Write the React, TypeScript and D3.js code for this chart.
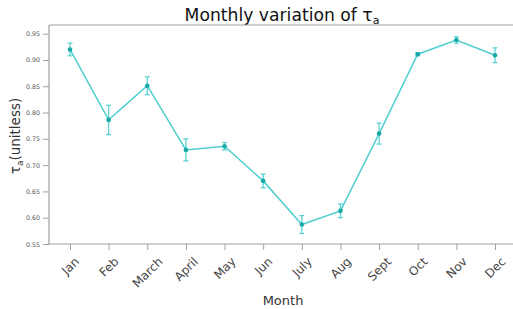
import React from 'react';
import * as d3 from 'd3';

const months = ['Jan', 'Feb', 'March', 'April', 'May', 'Jun', 'July', 'Aug', 'Sept', 'Oct', 'Nov', 'Dec'];
const tauValues = [0.920, 0.786, 0.851, 0.729, 0.736, 0.670, 0.587, 0.613, 0.760, 0.911, 0.938, 0.909];
const tauErrors = [0.012, 0.028, 0.017, 0.021, 0.007, 0.013, 0.017, 0.013, 0.020, 0.003, 0.006, 0.014];
const yTicks = [0.55, 0.60, 0.65, 0.70, 0.75, 0.80, 0.85, 0.90, 0.95];

const width = 513;
const height = 309;
const left = 49;
const right = 513;
const top = 25;
const bottom = 244;

const lineColor = '#4fd0cf';
const markColor = '#16a9a6';
const axisColor = '#a0a0a0';
const font = 'DejaVu Sans, sans-serif';
const xFont = 12;

const xScale = d3.scalePoint<string>().domain(months).range([70, 495]);
const yScale = d3.scaleLinear().domain([0.55, 0.9665]).range([bottom, top]);

function App() {
  const xAxisRef = React.useRef<SVGGElement>(null);
  const yAxisRef = React.useRef<SVGGElement>(null);

  React.useEffect(() => {
    const xa = d3.select(xAxisRef.current!);
    xa.call(d3.axisBottom(xScale).tickSize(6).tickSizeOuter(0));
    xa.select('.domain').remove();
    xa.selectAll('line').attr('stroke', axisColor);
    // matplotlib style: rotated 45, bbox centred on the tick
    xa.selectAll<SVGTextElement, string>('text')
      .attr('font-family', font)
      .attr('font-size', xFont)
      .attr('fill', '#444')
      .attr('text-anchor', 'middle')
      .attr('y', 0)
      .attr('dy', '0.32em')
      .attr('transform', function () {
        const len = this.getComputedTextLength();
        const half = (len + xFont * 0.85) * 0.7071 / 2;
        return `translate(0,${12 + half}) rotate(-45)`;
      });

    const ya = d3.select(yAxisRef.current!);
    ya.call(d3.axisLeft(yScale).tickValues(yTicks).tickFormat(d3.format('.2f')).tickSize(6).tickPadding(3));
    ya.select('.domain').remove();
    ya.selectAll('line').attr('stroke', axisColor);
    ya.selectAll('text')
      .attr('font-family', font)
      .attr('font-size', 6.3)
      .attr('fill', '#555');
  }, []);

  const line = d3.line<number>()
    .x((_, i) => xScale(months[i])!)
    .y(d => yScale(d));

  return (
    <svg width={width} height={height} viewBox={`0 0 ${width} ${height}`}
      style={{ position: 'absolute', left: 0, top: 0, background: '#fff' }}>
      <text x={282} y={21} textAnchor="middle" fontFamily={font} fontSize={17.2} fill="#111">
        Monthly variation of τ<tspan fontSize={11} dy={3}>a</tspan>
      </text>
      <line x1={left} x2={right} y1={top} y2={top} stroke={axisColor} strokeWidth={1.2} />
      <line x1={left} x2={left} y1={top} y2={bottom} stroke={axisColor} strokeWidth={1.2} />
      <line x1={left} x2={right} y1={bottom} y2={bottom} stroke={axisColor} strokeWidth={1.2} />
      <g ref={xAxisRef} transform={`translate(0,${bottom})`} />
      <g ref={yAxisRef} transform={`translate(${left},0)`} />
      <path d={line(tauValues) || ''} fill="none" stroke={lineColor} strokeWidth={1.5} />
      {tauValues.map((v, i) => {
        const x = xScale(months[i])!;
        const y0 = yScale(v - tauErrors[i]);
        const y1 = yScale(v + tauErrors[i]);
        return (
          <g key={months[i]}>
            <line x1={x} x2={x} y1={y0} y2={y1} stroke={lineColor} strokeWidth={1.2} />
            <line x1={x - 2.5} x2={x + 2.5} y1={y0} y2={y0} stroke={lineColor} strokeWidth={1.2} />
            <line x1={x - 2.5} x2={x + 2.5} y1={y1} y2={y1} stroke={lineColor} strokeWidth={1.2} />
            <circle cx={x} cy={yScale(v)} r={2.3} fill={markColor} />
          </g>
        );
      })}
      <text transform={`translate(20,${136}) rotate(-90)`} textAnchor="middle"
        fontFamily={font} fontSize={13.5} fill="#333">
        τ<tspan fontSize={9} dy={2.5}>a</tspan><tspan dy={-2.5}>(unitless)</tspan>
      </text>
      <text x={283} y={305} textAnchor="middle" fontFamily={font} fontSize={13} fill="#333">Month</text>
    </svg>
  );
}

export default App;
